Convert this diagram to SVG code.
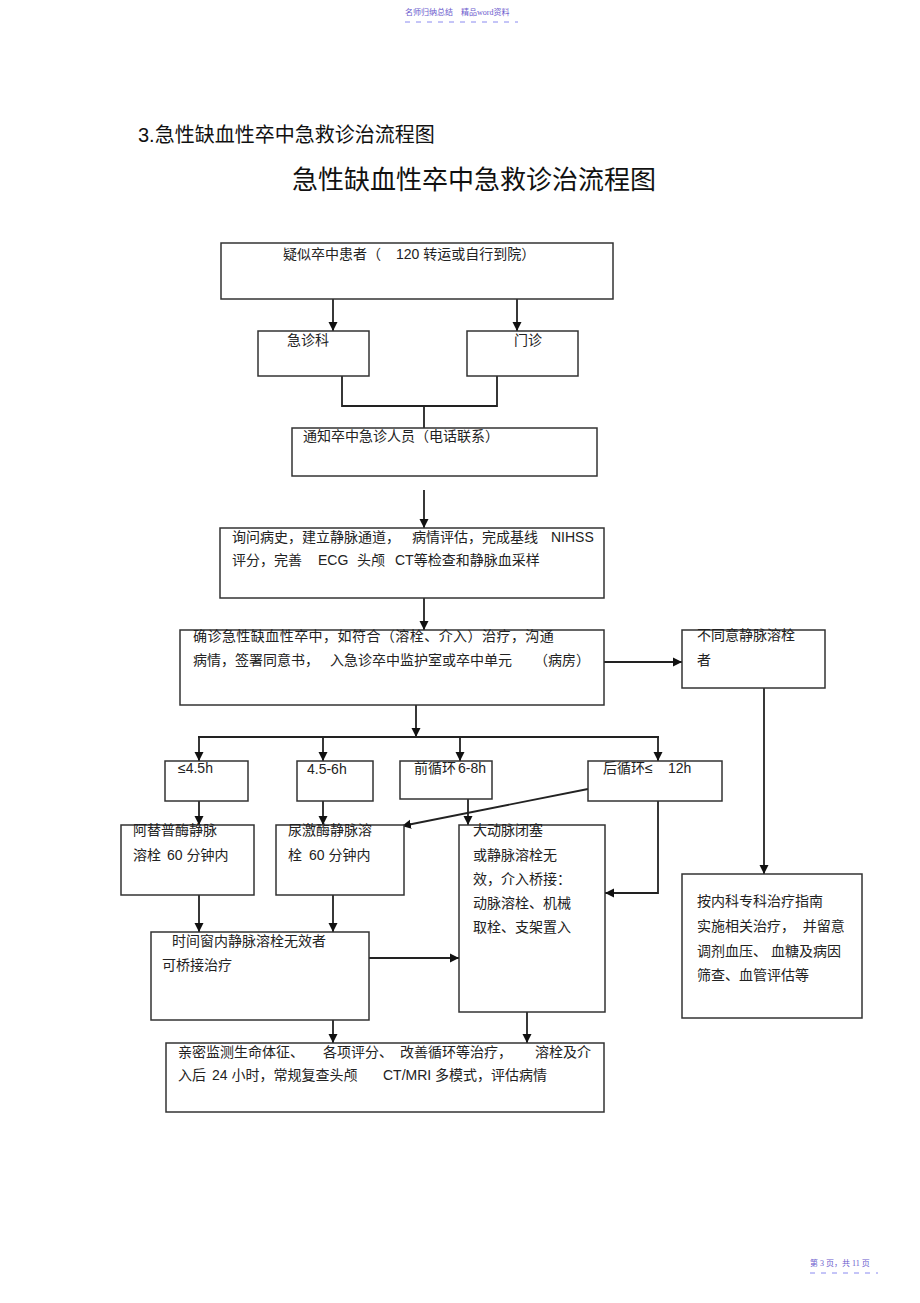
<svg xmlns="http://www.w3.org/2000/svg" width="920" height="1303" viewBox="0 0 920 1303">
<style>
.t{font-family:"Liberation Sans","Noto Sans CJK SC",sans-serif;font-size:14px;fill:#222;white-space:pre}
.box{fill:#fff;stroke:#333;stroke-width:1.5}
.c{fill:none;stroke:#222;stroke-width:1.8}
.hd{font-family:"Liberation Serif","Noto Sans CJK SC",serif;font-size:8px;fill:#6a5acd}
.dash{stroke:#8a8af0;stroke-width:1;stroke-dasharray:5,6}
</style>
<defs>
<marker id="ah" markerWidth="10" markerHeight="10" refX="9" refY="5" orient="auto" markerUnits="userSpaceOnUse">
<path d="M0,0.5 L9,5 L0,9.5 Z" fill="#111"/>
</marker>
</defs>
<rect width="920" height="1303" fill="#fff"/>
<g id="page-header">
<text class="hd" x="405" y="15">名师归纳总结</text>
<text class="hd" x="461" y="15">精品word资料</text>
<line class="dash" x1="405" y1="22" x2="518" y2="22"/>
</g>
<g id="page-footer">
<text class="hd" x="810" y="1266">第 3 页，共 11 页</text>
<line class="dash" x1="810" y1="1273" x2="878" y2="1273"/>
</g>
<g id="headings">
<text x="138" y="142" style="font-family:'Liberation Sans','Noto Sans CJK SC',sans-serif;font-size:20px;fill:#111">3.急性缺血性卒中急救诊治流程图</text>
<text x="474" y="189" text-anchor="middle" style="font-family:'Noto Sans CJK SC',sans-serif;font-size:26px;fill:#111">急性缺血性卒中急救诊治流程图</text>
</g>
<g id="connectors">
<line class="c" x1="333" y1="299" x2="333" y2="331" marker-end="url(#ah)"/>
<line class="c" x1="517" y1="299" x2="517" y2="331" marker-end="url(#ah)"/>
<polyline class="c" points="342,376 342,406 497,406 497,376"/>
<line class="c" x1="424" y1="406" x2="424" y2="428"/>
<line class="c" x1="424" y1="490" x2="424" y2="528" marker-end="url(#ah)"/>
<line class="c" x1="424" y1="598" x2="424" y2="630" marker-end="url(#ah)"/>
<line class="c" x1="604" y1="662" x2="682" y2="662" marker-end="url(#ah)"/>
<line class="c" x1="764" y1="688" x2="764" y2="874" marker-end="url(#ah)"/>
<line class="c" x1="416" y1="705" x2="416" y2="737" marker-end="url(#ah)"/>
<line class="c" x1="198" y1="737" x2="659" y2="737"/>
<line class="c" x1="199" y1="737" x2="199" y2="761" marker-end="url(#ah)"/>
<line class="c" x1="323" y1="737" x2="323" y2="761" marker-end="url(#ah)"/>
<line class="c" x1="460" y1="737" x2="460" y2="761" marker-end="url(#ah)"/>
<line class="c" x1="658" y1="737" x2="658" y2="761" marker-end="url(#ah)"/>
<line class="c" x1="199" y1="801" x2="199" y2="825" marker-end="url(#ah)"/>
<line class="c" x1="323" y1="801" x2="323" y2="825" marker-end="url(#ah)"/>
<line class="c" x1="468" y1="799" x2="468" y2="825" marker-end="url(#ah)"/>
<line class="c" x1="588" y1="789" x2="402" y2="826" marker-end="url(#ah)"/>
<polyline class="c" points="658,801 658,893 605,893" marker-end="url(#ah)"/>
<line class="c" x1="199" y1="895" x2="199" y2="932" marker-end="url(#ah)"/>
<line class="c" x1="333" y1="895" x2="333" y2="932" marker-end="url(#ah)"/>
<line class="c" x1="369" y1="958" x2="459" y2="958" marker-end="url(#ah)"/>
<line class="c" x1="333" y1="1020" x2="333" y2="1043" marker-end="url(#ah)"/>
<line class="c" x1="527" y1="1012" x2="527" y2="1043" marker-end="url(#ah)"/>
</g>
<g id="n-suspect">
<rect class="box" x="221" y="243" width="392" height="56"/>
<text class="t" x="283" y="259">疑似卒中患者（</text>
<text class="t" x="396" y="259">120 转运或自行到院）</text>
</g>
<g id="n-emergency">
<rect class="box" x="258" y="331" width="111" height="45"/>
<text class="t" x="287" y="345">急诊科</text>
</g>
<g id="n-outpatient">
<rect class="box" x="467" y="331" width="111" height="45"/>
<text class="t" x="514" y="345">门诊</text>
</g>
<g id="n-notify">
<rect class="box" x="292" y="428" width="305" height="48"/>
<text class="t" x="303" y="441">通知卒中急诊人员（电话联系）</text>
</g>
<g id="n-history">
<rect class="box" x="220" y="528" width="384" height="70"/>
<text class="t" x="232" y="542">询问病史，建立静脉通道，</text>
<text class="t" x="412" y="542">病情评估，完成基线</text>
<text class="t" x="551" y="542">NIHSS</text>
<text class="t" x="232" y="565">评分，完善</text>
<text class="t" x="318" y="565">ECG</text>
<text class="t" x="357" y="565">头颅</text>
<text class="t" x="395" y="565">CT等检查和静脉血采样</text>
</g>
<g id="n-diagnose">
<rect class="box" x="180" y="630" width="424" height="75"/>
<text class="t" x="193" y="641" style="letter-spacing:0.45px">确诊急性缺血性卒中，如符合（溶栓、介入）治疗，沟通</text>
<text class="t" x="193" y="665">病情，签署同意书，</text>
<text class="t" x="330" y="665">入急诊卒中监护室或卒中单元</text>
<text class="t" x="534" y="665">（病房）</text>
</g>
<g id="n-refuse">
<rect class="box" x="682" y="630" width="143" height="58"/>
<text class="t" x="697" y="640">不同意静脉溶栓</text>
<text class="t" x="697" y="665">者</text>
</g>
<g id="n-medical">
<rect class="box" x="682" y="874" width="180" height="144"/>
<text class="t" x="697" y="906">按内科专科治疗指南</text>
<text class="t" x="697" y="931">实施相关治疗，  并留意</text>
<text class="t" x="697" y="956">调剂血压、 血糖及病因</text>
<text class="t" x="697" y="980">筛查、血管评估等</text>
</g>
<g id="n-t45">
<rect class="box" x="165" y="761" width="83" height="40"/>
<text class="t" x="178" y="773">≤4.5h</text>
</g>
<g id="n-t456">
<rect class="box" x="297" y="761" width="76" height="40"/>
<text class="t" x="307" y="774">4.5-6h</text>
</g>
<g id="n-anterior">
<rect class="box" x="400" y="761" width="92" height="38"/>
<text class="t" x="414" y="773">前循环</text>
<text class="t" x="458" y="773">6-8h</text>
</g>
<g id="n-posterior">
<rect class="box" x="588" y="761" width="134" height="40"/>
<text class="t" x="603" y="773">后循环≤</text>
<text class="t" x="668" y="773">12h</text>
</g>
<g id="n-alteplase">
<rect class="box" x="121" y="825" width="133" height="70"/>
<text class="t" x="133" y="835">阿替普酶静脉</text>
<text class="t" x="133" y="860">溶栓</text>
<text class="t" x="167" y="860">60 分钟内</text>
</g>
<g id="n-urokinase">
<rect class="box" x="276" y="825" width="128" height="70"/>
<text class="t" x="288" y="835">尿激酶静脉溶</text>
<text class="t" x="288" y="860">栓</text>
<text class="t" x="309" y="860">60 分钟内</text>
</g>
<g id="n-lvo">
<rect class="box" x="459" y="825" width="146" height="187"/>
<text class="t" x="473" y="835">大动脉闭塞</text>
<text class="t" x="473" y="860">或静脉溶栓无</text>
<text class="t" x="473" y="884">效，介入桥接：</text>
<text class="t" x="473" y="908">动脉溶栓、机械</text>
<text class="t" x="473" y="932">取栓、支架置入</text>
</g>
<g id="n-bridge">
<rect class="box" x="151" y="932" width="218" height="88"/>
<text class="t" x="172" y="946">时间窗内静脉溶栓无效者</text>
<text class="t" x="162" y="970">可桥接治疗</text>
</g>
<g id="n-monitor">
<rect class="box" x="166" y="1043" width="438" height="69"/>
<text class="t" x="178" y="1057">亲密监测生命体征、</text>
<text class="t" x="323" y="1057">各项评分、</text>
<text class="t" x="400" y="1057">改善循环等治疗，</text>
<text class="t" x="535" y="1057">溶栓及介</text>
<text class="t" x="178" y="1080">入后</text>
<text class="t" x="212" y="1080">24 小时，常规复查头颅</text>
<text class="t" x="383" y="1080">CT/MRI 多模式，评估病情</text>
</g>
</svg>
